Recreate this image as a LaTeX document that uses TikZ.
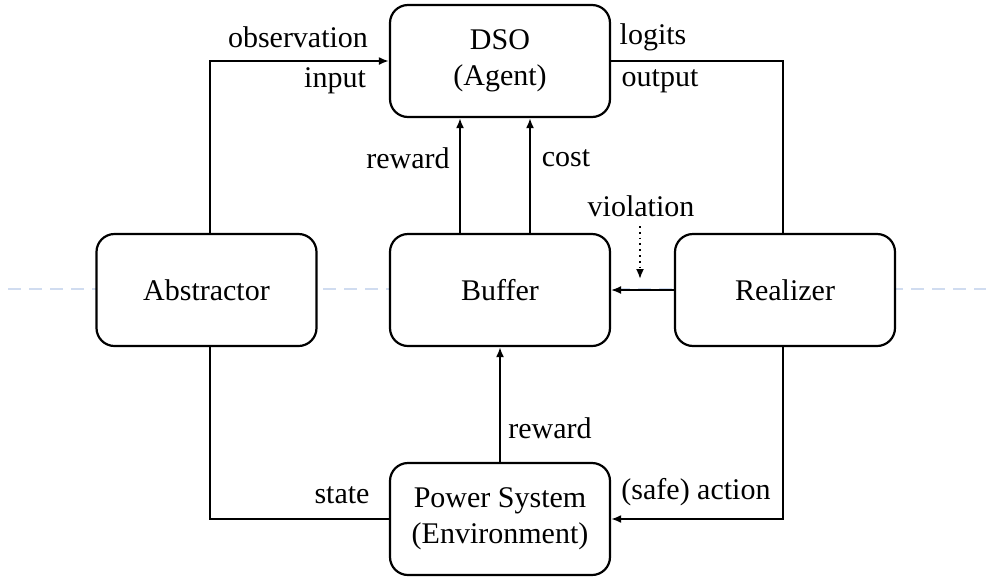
\documentclass[tikz,border=0pt]{standalone}
\usepackage{fontspec}
\setmainfont{Liberation Serif}
\usetikzlibrary{arrows.meta,calc}
\begin{document}
\begin{tikzpicture}[x=0.5pt,y=-0.5pt,
  font=\fontsize{15}{18}\selectfont,
  blk/.style={draw,line width=1.1pt,rounded corners=9pt,fill=white,
    minimum width=110pt,minimum height=56pt,align=center,inner sep=0pt},
  link/.style={line width=1pt},
  tip/.style={-{Latex[length=5pt,width=4pt]}},
  lbl/.style={inner sep=0pt,anchor=center}]
\useasboundingbox (0,0) rectangle (986,579);

% light guide line across the middle row
\draw[draw={rgb,255:red,208;green,220;blue,240},line width=1pt,dash pattern=on 6.5pt off 4pt]
  (8,289) -- (986,289);

% blocks
\node[blk] (dso) at (500,61) {DSO\\(Agent)};
\node[blk] (abs) at (206.5,290) {Abstractor};
\node[blk] (buf) at (500,290) {Buffer};
\node[blk] (rea) at (785,290) {Realizer};
\node[blk] (env) at (500,519) {Power System\\(Environment)};

% connectors
\draw[link,tip] ([xshift=1.75pt]abs.north) |- (dso.west);
\draw[link] (dso.east) -| ([xshift=-1pt]rea.north);
\draw[link,tip] ([xshift=-20pt]buf.north) -- ([xshift=-20pt]dso.south);
\draw[link,tip] ([xshift=15pt]buf.north) -- ([xshift=15pt]dso.south);
\draw[line width=0.8pt,tip] (rea.west) -- (buf.east);
\coordinate (vtop) at (640,226);
\coordinate (vend) at (640,279);
\draw[line width=0.9pt,dotted,-{Latex[length=5pt,width=4pt]}] (vtop) -- (vend);
\draw[link,tip] (env.north) -- (buf.south);
\draw[link] (env.west) -| ([xshift=1.75pt]abs.south);
\draw[link,tip] ([xshift=-1pt]rea.south) |- (env.east);

% labels
\node[lbl] (lobs) at (298,37) {observation};
\node[lbl] (linp) at (335,81) {input};
\node[lbl] (llog) at (653,37) {logits};
\node[lbl] (lout) at (660,81) {output};
\node[lbl] (lrw1) at (408,158) {reward};
\node[lbl] (lcst) at (566,158) {cost};
\node[lbl] (lvio) at (641,206) {violation};
\node[lbl] (lrw2) at (550,428) {reward};
\node[lbl] (lsta) at (342,495) {state};
\node[lbl] (lact) at (696,492) {(safe) action};
\end{tikzpicture}
\end{document}
